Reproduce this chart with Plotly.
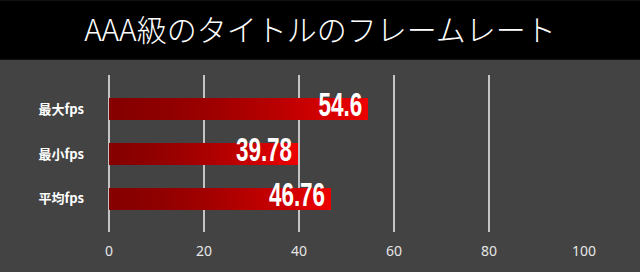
import plotly.graph_objects as go

# ---- data ----
categories = ["最大fps", "最小fps", "平均fps"]
values = [54.6, 39.78, 46.76]
labels = ["54.6", "39.78", "46.76"]
x_ticks = [0, 20, 40, 60, 80, 100]
title_text = "AAA級のタイトルのフレームレート"

# ---- style ----
BG = "#434343"
DARK = (0x86, 0x00, 0x00)
BRIGHT = (0xEC, 0x00, 0x00)
N = 60

def mix(t):
    t2 = t ** 1.6
    r, g, b = (round(DARK[i] + (BRIGHT[i] - DARK[i]) * t2) for i in range(3))
    return f"rgb({r},{g},{b})"

# gradient bars: overlaid bars, longest (brightest) first, shortest (darkest) last
ys, xs, cols = [], [], []
for k in range(N):
    frac = 1 - k / N
    for c, v in zip(categories, values):
        ys.append(c)
        xs.append(v * frac)
        cols.append(mix(frac))

fig = go.Figure()
fig.add_trace(go.Bar(
    y=ys, x=xs, orientation="h",
    marker=dict(color=cols, line=dict(width=0)),
    width=0.49, hoverinfo="skip", showlegend=False,
))

for c, v, t in zip(categories, values, labels):
    fig.add_annotation(
        x=v, y=c, xref="x", yref="y", text=t, showarrow=False,
        xanchor="right", yanchor="middle", xshift=-4, yshift=5,
        font=dict(family="Liberation Sans", size=34, color="white", weight="bold"),
    )

# plot area geometry
l, r, t, b = 109, 56, 75, 29
W, H = 640, 272
pw = W - l - r
ph = H - t - b
band_bottom = 58.7

fig.add_shape(
    type="rect", xref="paper", yref="paper",
    x0=-l / pw - 0.05, x1=1 + r / pw + 0.05,
    y0=1 + (t - band_bottom) / ph, y1=1 + (t + 5) / ph,
    fillcolor="black", line=dict(width=0), layer="below",
)

fig.update_layout(
    width=W, height=H,
    margin=dict(l=l, r=r, t=t, b=b, pad=0),
    paper_bgcolor=BG, plot_bgcolor=BG,
    barmode="overlay", bargap=0,
    title=dict(
        text=title_text, x=0.5, xanchor="center", xref="container",
        y=1 - 30 / H, yanchor="middle", yref="container",
        font=dict(family="Noto Sans CJK JP", size=30, color="white", weight=300),
    ),
    xaxis=dict(
        range=[0, 100], tickvals=x_ticks, ticktext=[str(v) for v in x_ticks],
        showgrid=True, gridcolor="#c4c4c4", gridwidth=1.5,
        zeroline=True, zerolinecolor="#c4c4c4", zerolinewidth=1.5,
        showline=False, ticks="outside", ticklen=6, tickcolor=BG,
        tickfont=dict(family="Noto Sans", size=14, color="#e6e6e6"),
        fixedrange=True,
    ),
    yaxis=dict(
        type="category", categoryorder="array", categoryarray=categories,
        range=[2.74, -0.76], showgrid=False, zeroline=False, showline=False,
        ticks="", ticklabelstandoff=24,
        tickfont=dict(family="Noto Sans CJK JP", size=13, color="white", weight="bold"),
        fixedrange=True,
    ),
)

# condensed look for the value labels (no condensed font installed)
post = """
document.querySelectorAll('.annotation-text').forEach(function(el){
  el.style.transformBox = 'fill-box';
  el.style.transformOrigin = 'right center';
  el.style.transform = 'scaleX(0.66)';
});
"""

fig.write_html("out.html", post_script=post)
